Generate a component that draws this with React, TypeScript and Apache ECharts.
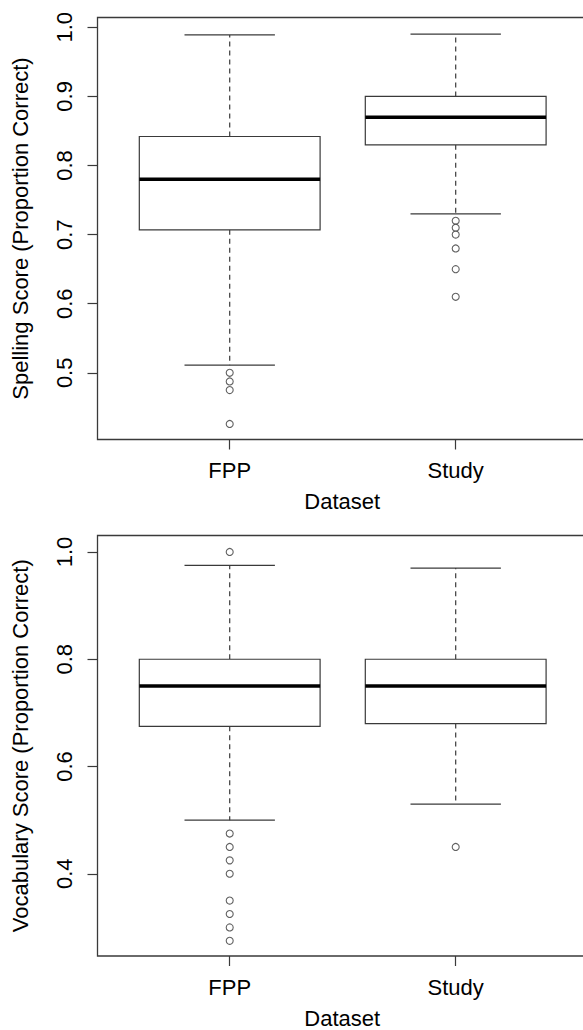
import React, { useEffect, useRef } from "react";
import * as echarts from "echarts";

// ---- data ----
const groups = ["FPP", "Study"];
const groupPos = [1, 2];

// [lower whisker, Q1, median, Q3, upper whisker]
const spellingFPP = [0.511, 0.707, 0.78, 0.842, 0.989];
const spellingStudy = [0.73, 0.83, 0.87, 0.9, 0.99];
const spellingFPPOutliers = [0.5, 0.4875, 0.475, 0.426];
const spellingStudyOutliers = [0.72, 0.71, 0.7, 0.68, 0.65, 0.61];

const vocabFPP = [0.5, 0.675, 0.75, 0.8, 0.975];
const vocabStudy = [0.53, 0.68, 0.75, 0.8, 0.97];
const vocabFPPOutliers = [1.0, 0.475, 0.45, 0.425, 0.4, 0.35, 0.325, 0.3, 0.275];
const vocabStudyOutliers = [0.45];

const spellingTicks = [0.5, 0.6, 0.7, 0.8, 0.9, 1.0];
const vocabTicks = [0.4, 0.6, 0.8, 1.0];

const spellingTitle = "Spelling Score (Proportion Correct)";
const vocabTitle = "Vocabulary Score (Proportion Correct)";
const xTitle = "Dataset";

const FONT = "'Liberation Sans', Arial, Helvetica, sans-serif";
const LINE = "#3a3a3a";

function boxRender(params: any, api: any) {
  const x = api.value(0);
  const lo = api.value(1);
  const q1 = api.value(2);
  const med = api.value(3);
  const q3 = api.value(4);
  const hi = api.value(5);
  const pLo = api.coord([x, lo]);
  const pQ1 = api.coord([x, q1]);
  const pMed = api.coord([x, med]);
  const pQ3 = api.coord([x, q3]);
  const pHi = api.coord([x, hi]);
  const halfBox = api.size([0.8, 0])[0] / 2;
  const halfCap = api.size([0.4, 0])[0] / 2;
  const cx = pMed[0];
  const lineStyle = { stroke: LINE, lineWidth: 1.2, fill: null };
  const dash = { stroke: LINE, lineWidth: 1.2, lineDash: [5, 4], fill: null };
  return {
    type: "group",
    children: [
      { type: "line", shape: { x1: cx, y1: pQ3[1], x2: cx, y2: pHi[1] }, style: dash },
      { type: "line", shape: { x1: cx, y1: pQ1[1], x2: cx, y2: pLo[1] }, style: dash },
      { type: "line", shape: { x1: cx - halfCap, y1: pHi[1], x2: cx + halfCap, y2: pHi[1] }, style: lineStyle },
      { type: "line", shape: { x1: cx - halfCap, y1: pLo[1], x2: cx + halfCap, y2: pLo[1] }, style: lineStyle },
      {
        type: "rect",
        shape: { x: cx - halfBox, y: pQ3[1], width: halfBox * 2, height: pQ1[1] - pQ3[1] },
        style: { stroke: LINE, lineWidth: 1.2, fill: "#ffffff" },
      },
      {
        type: "line",
        shape: { x1: cx - halfBox, y1: pMed[1], x2: cx + halfBox, y2: pMed[1] },
        style: { stroke: "#000000", lineWidth: 3.5 },
      },
    ],
  };
}

function outlierPoints(pos: number, vals: number[]) {
  return vals.map((v) => [pos, v]);
}

export default function App() {
  const ref = useRef<HTMLDivElement>(null);

  useEffect(() => {
    if (!ref.current) return;
    const chart = echarts.init(ref.current, null, { renderer: "svg" });

    const textStyle = { color: "#000", fontFamily: FONT, fontSize: 22 };

    const makeX = (gridIndex: number) => ({
      type: "value",
      gridIndex,
      min: 0.415,
      max: 2.581,
      name: xTitle,
      nameLocation: "middle",
      nameGap: 51,
      nameTextStyle: textStyle,
      axisLine: { show: false },
      splitLine: { show: false },
      axisTick: {
        show: true,
        length: 10,
        customValues: groupPos,
        lineStyle: { color: LINE, width: 1.2 },
      },
      axisLabel: {
        show: true,
        margin: 20,
        customValues: groupPos,
        formatter: (v: number) => groups[groupPos.indexOf(v)] ?? "",
        ...textStyle,
      },
    });

    const makeY = (gridIndex: number, min: number, max: number, ticks: number[], title: string) => ({
      type: "value",
      gridIndex,
      min,
      max,
      name: title,
      nameLocation: "middle",
      nameRotate: 90,
      nameGap: 66,
      nameTextStyle: textStyle,
      axisLine: { show: false },
      splitLine: { show: false },
      axisTick: {
        show: true,
        length: 10,
        customValues: ticks,
        lineStyle: { color: LINE, width: 1.2 },
      },
      axisLabel: {
        show: true,
        rotate: 90,
        margin: 22,
        customValues: ticks,
        formatter: (v: number) => v.toFixed(1),
        ...textStyle,
      },
    });

    const option: any = {
      animation: false,
      backgroundColor: "#ffffff",
      grid: [
        { left: 97.5, top: 17.5, width: 489.5, height: 422, show: true, borderColor: LINE, borderWidth: 1.3, backgroundColor: "transparent" },
        { left: 97.5, top: 535.5, width: 489.5, height: 422, show: true, borderColor: LINE, borderWidth: 1.3, backgroundColor: "transparent" },
      ],
      xAxis: [makeX(0), makeX(1)],
      yAxis: [
        makeY(0, 0.4035, 1.0142, spellingTicks, spellingTitle),
        makeY(1, 0.2467, 1.0307, vocabTicks, vocabTitle),
      ],
      series: [
        {
          type: "custom",
          xAxisIndex: 0,
          yAxisIndex: 0,
          renderItem: boxRender,
          encode: { x: 0, y: [1, 2, 3, 4, 5] },
          data: [
            [groupPos[0], ...spellingFPP],
            [groupPos[1], ...spellingStudy],
          ],
          z: 2,
        },
        {
          type: "custom",
          xAxisIndex: 1,
          yAxisIndex: 1,
          renderItem: boxRender,
          encode: { x: 0, y: [1, 2, 3, 4, 5] },
          data: [
            [groupPos[0], ...vocabFPP],
            [groupPos[1], ...vocabStudy],
          ],
          z: 2,
        },
        {
          type: "scatter",
          xAxisIndex: 0,
          yAxisIndex: 0,
          symbol: "circle",
          symbolSize: 7,
          itemStyle: { color: "#ffffff", borderColor: LINE, borderWidth: 1.1 },
          data: [
            ...outlierPoints(groupPos[0], spellingFPPOutliers),
            ...outlierPoints(groupPos[1], spellingStudyOutliers),
          ],
          z: 3,
        },
        {
          type: "scatter",
          xAxisIndex: 1,
          yAxisIndex: 1,
          symbol: "circle",
          symbolSize: 7,
          itemStyle: { color: "#ffffff", borderColor: LINE, borderWidth: 1.1 },
          data: [
            ...outlierPoints(groupPos[0], vocabFPPOutliers),
            ...outlierPoints(groupPos[1], vocabStudyOutliers),
          ],
          z: 3,
        },
      ],
    };

    chart.setOption(option);
    return () => chart.dispose();
  }, []);

  return (
    <div
      style={{
        position: "absolute",
        left: 0,
        top: 0,
        width: 583,
        height: 1030,
        overflow: "hidden",
        background: "#fff",
      }}
    >
      <div ref={ref} style={{ width: 600, height: 1030 }} />
    </div>
  );
}
